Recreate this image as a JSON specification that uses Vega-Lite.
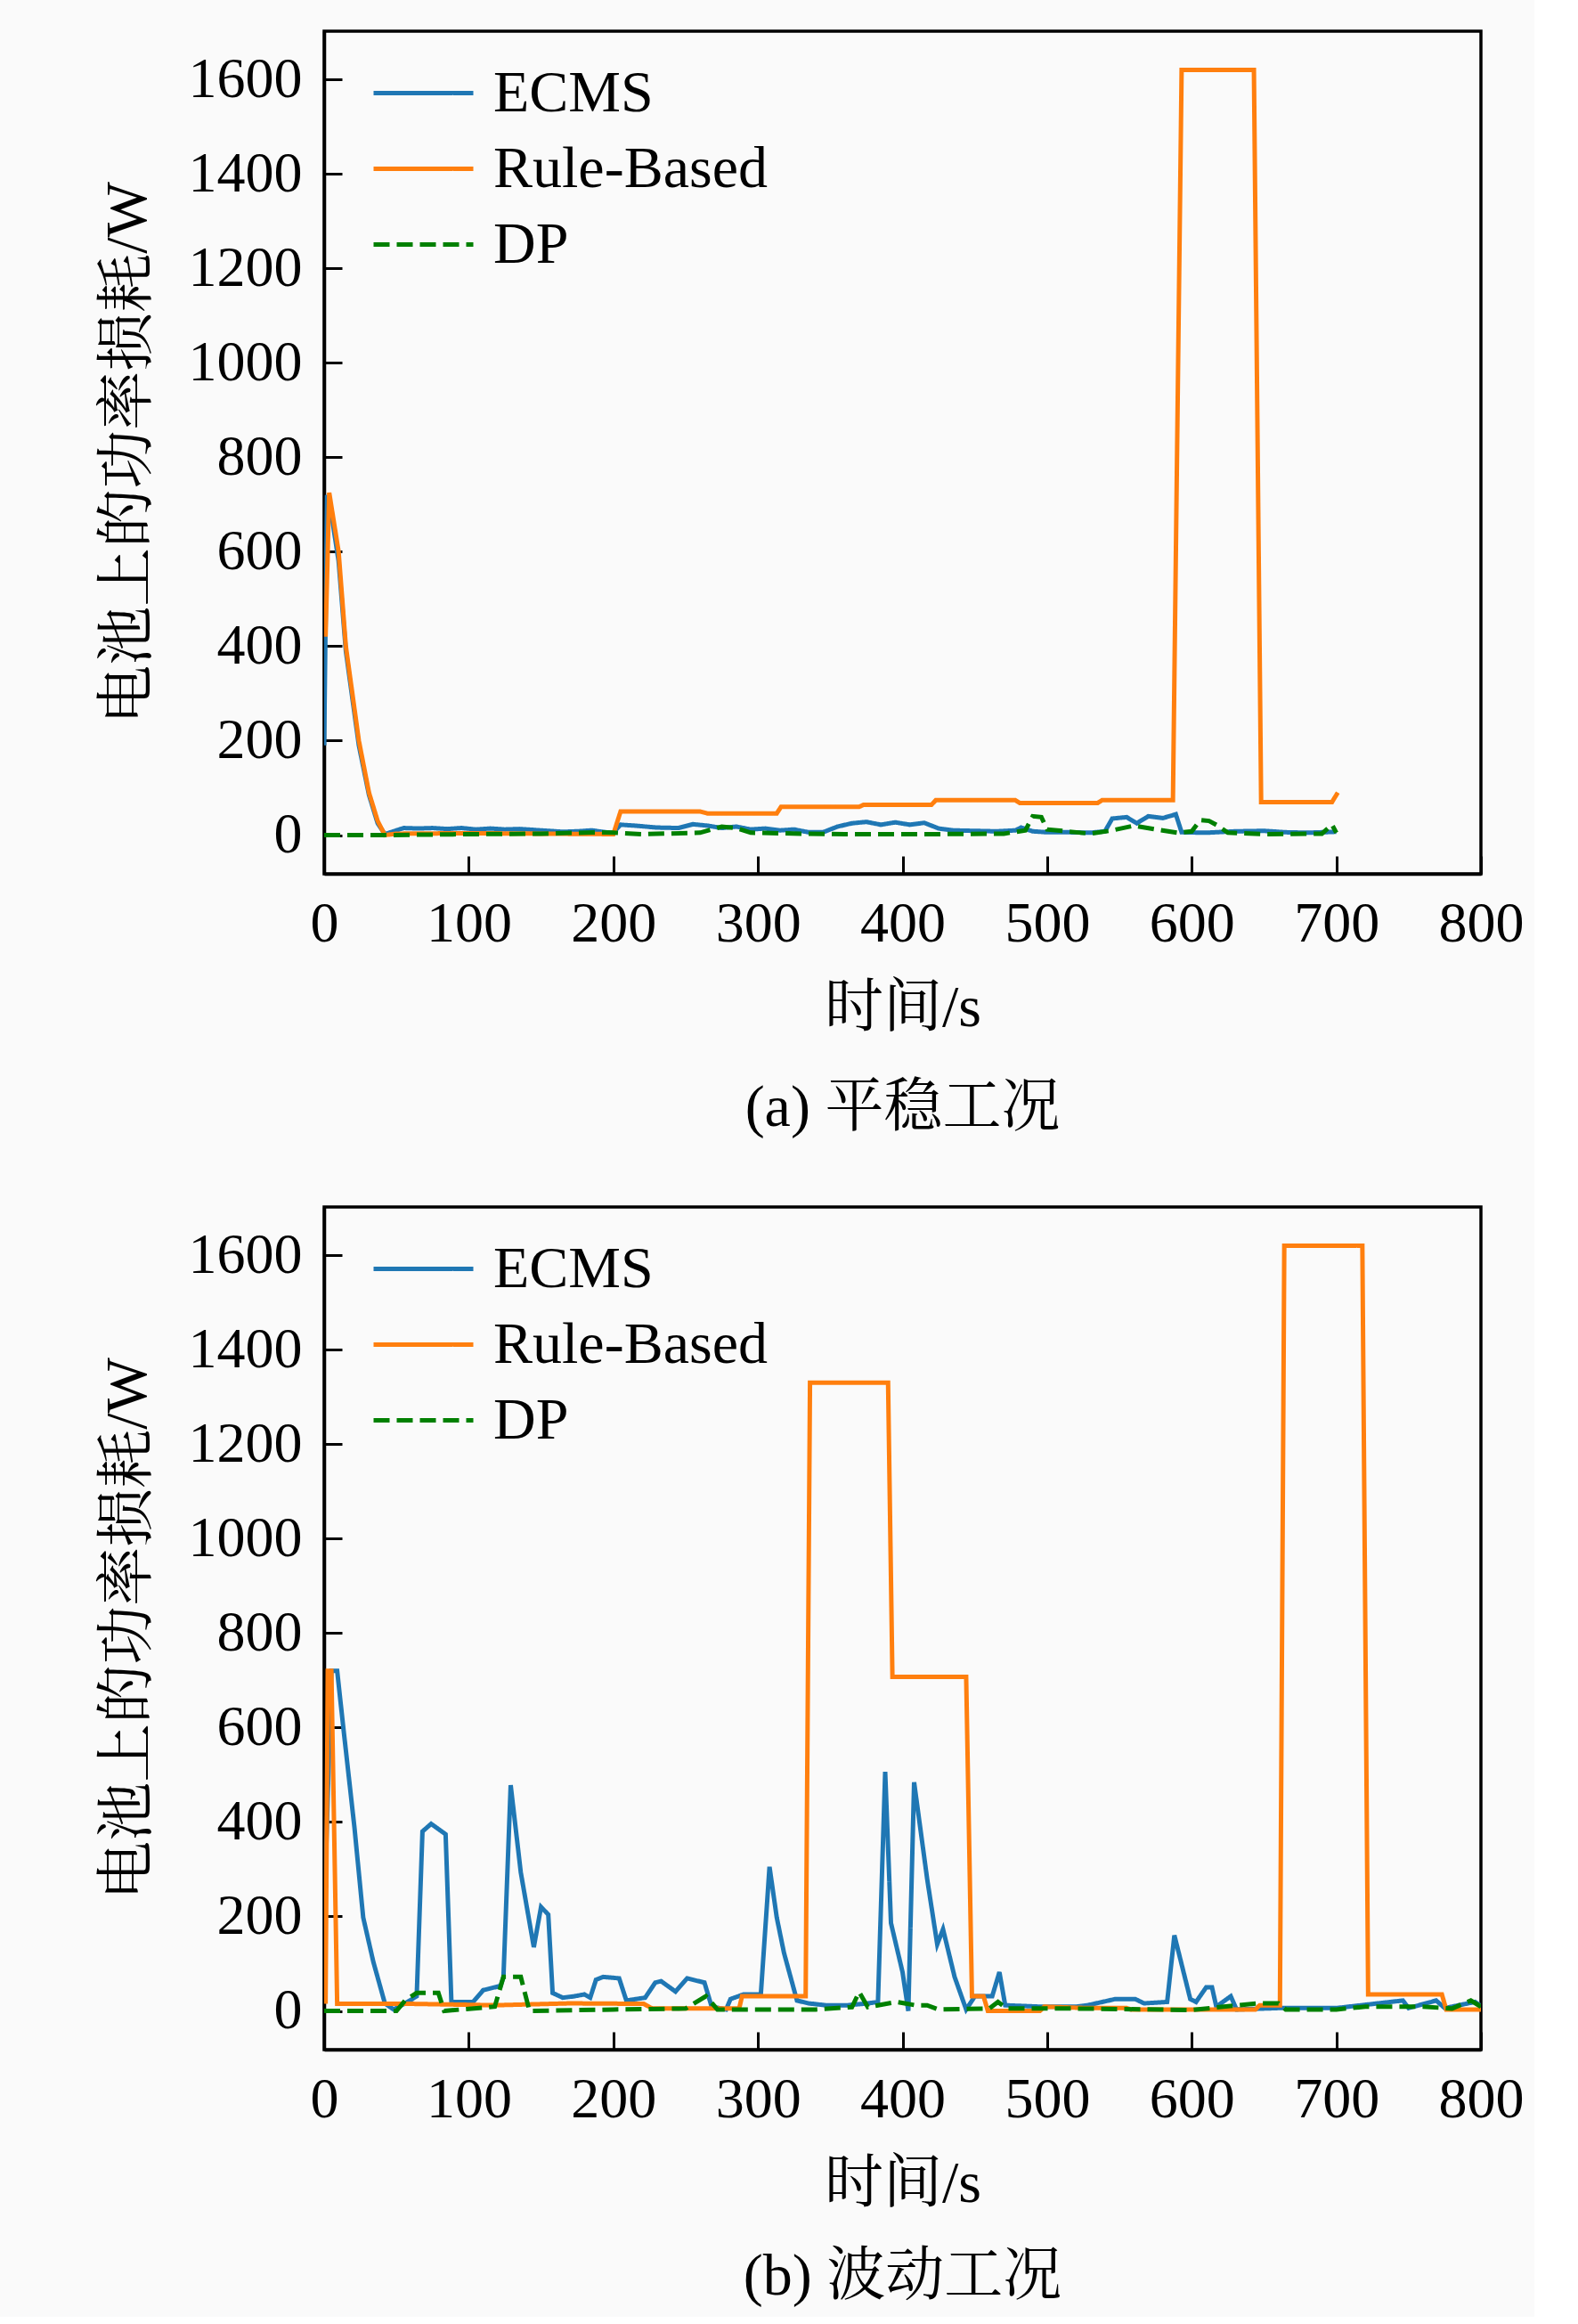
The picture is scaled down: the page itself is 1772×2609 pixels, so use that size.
{
  "$schema": "https://vega.github.io/schema/vega-lite/v6.json",
  "background": "#fafafa",
  "padding": {"left": 108, "top": 33, "right": 10, "bottom": 10},
  "datasets": {
    "a": [
      {"s": "ECMS", "t": 0, "v": 190}, {"s": "ECMS", "t": 2, "v": 720}, {"s": "ECMS", "t": 4, "v": 700},
      {"s": "ECMS", "t": 10, "v": 580}, {"s": "ECMS", "t": 15, "v": 390}, {"s": "ECMS", "t": 24, "v": 190},
      {"s": "ECMS", "t": 31, "v": 85}, {"s": "ECMS", "t": 37, "v": 25}, {"s": "ECMS", "t": 42, "v": 2},
      {"s": "ECMS", "t": 48, "v": 8}, {"s": "ECMS", "t": 55, "v": 15}, {"s": "ECMS", "t": 65, "v": 14},
      {"s": "ECMS", "t": 75, "v": 15}, {"s": "ECMS", "t": 85, "v": 13}, {"s": "ECMS", "t": 95, "v": 15},
      {"s": "ECMS", "t": 105, "v": 12}, {"s": "ECMS", "t": 115, "v": 14}, {"s": "ECMS", "t": 125, "v": 12},
      {"s": "ECMS", "t": 135, "v": 13}, {"s": "ECMS", "t": 145, "v": 11}, {"s": "ECMS", "t": 155, "v": 9},
      {"s": "ECMS", "t": 165, "v": 7}, {"s": "ECMS", "t": 175, "v": 8}, {"s": "ECMS", "t": 185, "v": 10},
      {"s": "ECMS", "t": 195, "v": 6}, {"s": "ECMS", "t": 200, "v": 5}, {"s": "ECMS", "t": 205, "v": 22},
      {"s": "ECMS", "t": 215, "v": 20}, {"s": "ECMS", "t": 230, "v": 16}, {"s": "ECMS", "t": 245, "v": 15},
      {"s": "ECMS", "t": 255, "v": 23}, {"s": "ECMS", "t": 265, "v": 20}, {"s": "ECMS", "t": 275, "v": 15},
      {"s": "ECMS", "t": 285, "v": 18}, {"s": "ECMS", "t": 295, "v": 12}, {"s": "ECMS", "t": 305, "v": 14},
      {"s": "ECMS", "t": 315, "v": 10}, {"s": "ECMS", "t": 325, "v": 12}, {"s": "ECMS", "t": 335, "v": 6},
      {"s": "ECMS", "t": 345, "v": 6}, {"s": "ECMS", "t": 355, "v": 18}, {"s": "ECMS", "t": 365, "v": 25},
      {"s": "ECMS", "t": 375, "v": 28}, {"s": "ECMS", "t": 385, "v": 22}, {"s": "ECMS", "t": 395, "v": 27},
      {"s": "ECMS", "t": 405, "v": 22}, {"s": "ECMS", "t": 415, "v": 26}, {"s": "ECMS", "t": 425, "v": 14},
      {"s": "ECMS", "t": 435, "v": 10}, {"s": "ECMS", "t": 450, "v": 9}, {"s": "ECMS", "t": 465, "v": 8},
      {"s": "ECMS", "t": 478, "v": 10}, {"s": "ECMS", "t": 482, "v": 16}, {"s": "ECMS", "t": 490, "v": 8},
      {"s": "ECMS", "t": 500, "v": 6}, {"s": "ECMS", "t": 515, "v": 6}, {"s": "ECMS", "t": 530, "v": 5},
      {"s": "ECMS", "t": 540, "v": 8}, {"s": "ECMS", "t": 545, "v": 35}, {"s": "ECMS", "t": 555, "v": 38},
      {"s": "ECMS", "t": 562, "v": 25}, {"s": "ECMS", "t": 570, "v": 40}, {"s": "ECMS", "t": 580, "v": 36},
      {"s": "ECMS", "t": 589, "v": 44}, {"s": "ECMS", "t": 593, "v": 6}, {"s": "ECMS", "t": 610, "v": 5},
      {"s": "ECMS", "t": 630, "v": 8}, {"s": "ECMS", "t": 650, "v": 9}, {"s": "ECMS", "t": 665, "v": 6},
      {"s": "ECMS", "t": 680, "v": 5}, {"s": "ECMS", "t": 700, "v": 7},
      {"s": "Rule-Based", "t": 1, "v": 420}, {"s": "Rule-Based", "t": 3.5, "v": 725}, {"s": "Rule-Based", "t": 10, "v": 600},
      {"s": "Rule-Based", "t": 15, "v": 400}, {"s": "Rule-Based", "t": 24, "v": 200}, {"s": "Rule-Based", "t": 31, "v": 90},
      {"s": "Rule-Based", "t": 37, "v": 30}, {"s": "Rule-Based", "t": 42, "v": 0}, {"s": "Rule-Based", "t": 50, "v": 3},
      {"s": "Rule-Based", "t": 100, "v": 4}, {"s": "Rule-Based", "t": 150, "v": 3}, {"s": "Rule-Based", "t": 200, "v": 2},
      {"s": "Rule-Based", "t": 205, "v": 50}, {"s": "Rule-Based", "t": 260, "v": 50}, {"s": "Rule-Based", "t": 265, "v": 46},
      {"s": "Rule-Based", "t": 313, "v": 46}, {"s": "Rule-Based", "t": 316, "v": 60}, {"s": "Rule-Based", "t": 370, "v": 60},
      {"s": "Rule-Based", "t": 373, "v": 64}, {"s": "Rule-Based", "t": 420, "v": 64}, {"s": "Rule-Based", "t": 423, "v": 74},
      {"s": "Rule-Based", "t": 478, "v": 74}, {"s": "Rule-Based", "t": 481, "v": 68}, {"s": "Rule-Based", "t": 535, "v": 68},
      {"s": "Rule-Based", "t": 538, "v": 74}, {"s": "Rule-Based", "t": 587, "v": 74}, {"s": "Rule-Based", "t": 593, "v": 1620},
      {"s": "Rule-Based", "t": 643, "v": 1620}, {"s": "Rule-Based", "t": 648, "v": 70}, {"s": "Rule-Based", "t": 697, "v": 70},
      {"s": "Rule-Based", "t": 701, "v": 90},
      {"s": "DP", "t": 0, "v": 0}, {"s": "DP", "t": 40, "v": 0}, {"s": "DP", "t": 100, "v": 2}, {"s": "DP", "t": 150, "v": 3},
      {"s": "DP", "t": 190, "v": 6}, {"s": "DP", "t": 200, "v": 5}, {"s": "DP", "t": 220, "v": 2}, {"s": "DP", "t": 260, "v": 5},
      {"s": "DP", "t": 275, "v": 18}, {"s": "DP", "t": 285, "v": 15}, {"s": "DP", "t": 295, "v": 5}, {"s": "DP", "t": 330, "v": 3},
      {"s": "DP", "t": 360, "v": 2}, {"s": "DP", "t": 420, "v": 2}, {"s": "DP", "t": 470, "v": 3}, {"s": "DP", "t": 485, "v": 10},
      {"s": "DP", "t": 490, "v": 40}, {"s": "DP", "t": 496, "v": 38}, {"s": "DP", "t": 500, "v": 12}, {"s": "DP", "t": 530, "v": 3},
      {"s": "DP", "t": 545, "v": 10}, {"s": "DP", "t": 560, "v": 20}, {"s": "DP", "t": 575, "v": 12}, {"s": "DP", "t": 590, "v": 5},
      {"s": "DP", "t": 600, "v": 8}, {"s": "DP", "t": 606, "v": 32}, {"s": "DP", "t": 612, "v": 30}, {"s": "DP", "t": 618, "v": 20},
      {"s": "DP", "t": 625, "v": 5}, {"s": "DP", "t": 650, "v": 2}, {"s": "DP", "t": 690, "v": 3}, {"s": "DP", "t": 697, "v": 22},
      {"s": "DP", "t": 700, "v": 5}
    ],
    "b": [
      {"s": "ECMS", "t": 0, "v": 200}, {"s": "ECMS", "t": 2, "v": 400}, {"s": "ECMS", "t": 5, "v": 720}, {"s": "ECMS", "t": 9, "v": 720},
      {"s": "ECMS", "t": 13, "v": 607}, {"s": "ECMS", "t": 21, "v": 387}, {"s": "ECMS", "t": 27, "v": 198}, {"s": "ECMS", "t": 34, "v": 104},
      {"s": "ECMS", "t": 42, "v": 16}, {"s": "ECMS", "t": 48, "v": 3}, {"s": "ECMS", "t": 56, "v": 16}, {"s": "ECMS", "t": 64, "v": 31},
      {"s": "ECMS", "t": 68, "v": 380}, {"s": "ECMS", "t": 74, "v": 396}, {"s": "ECMS", "t": 84, "v": 374}, {"s": "ECMS", "t": 88, "v": 19},
      {"s": "ECMS", "t": 103, "v": 19}, {"s": "ECMS", "t": 110, "v": 44}, {"s": "ECMS", "t": 122, "v": 53}, {"s": "ECMS", "t": 124, "v": 72},
      {"s": "ECMS", "t": 129, "v": 478}, {"s": "ECMS", "t": 136, "v": 293}, {"s": "ECMS", "t": 145, "v": 135}, {"s": "ECMS", "t": 150, "v": 220},
      {"s": "ECMS", "t": 155, "v": 204}, {"s": "ECMS", "t": 158, "v": 38}, {"s": "ECMS", "t": 165, "v": 28}, {"s": "ECMS", "t": 173, "v": 31},
      {"s": "ECMS", "t": 180, "v": 35}, {"s": "ECMS", "t": 184, "v": 28}, {"s": "ECMS", "t": 188, "v": 66}, {"s": "ECMS", "t": 193, "v": 72},
      {"s": "ECMS", "t": 204, "v": 69}, {"s": "ECMS", "t": 209, "v": 22}, {"s": "ECMS", "t": 222, "v": 28}, {"s": "ECMS", "t": 229, "v": 60},
      {"s": "ECMS", "t": 233, "v": 63}, {"s": "ECMS", "t": 243, "v": 41}, {"s": "ECMS", "t": 251, "v": 69}, {"s": "ECMS", "t": 263, "v": 60},
      {"s": "ECMS", "t": 268, "v": 9}, {"s": "ECMS", "t": 278, "v": 3}, {"s": "ECMS", "t": 281, "v": 25}, {"s": "ECMS", "t": 290, "v": 35},
      {"s": "ECMS", "t": 302, "v": 35}, {"s": "ECMS", "t": 308, "v": 305}, {"s": "ECMS", "t": 313, "v": 198}, {"s": "ECMS", "t": 318, "v": 123},
      {"s": "ECMS", "t": 327, "v": 22}, {"s": "ECMS", "t": 335, "v": 16}, {"s": "ECMS", "t": 347, "v": 12}, {"s": "ECMS", "t": 362, "v": 12},
      {"s": "ECMS", "t": 376, "v": 16}, {"s": "ECMS", "t": 383, "v": 19}, {"s": "ECMS", "t": 388, "v": 506}, {"s": "ECMS", "t": 392, "v": 186},
      {"s": "ECMS", "t": 400, "v": 82}, {"s": "ECMS", "t": 404, "v": 0}, {"s": "ECMS", "t": 408, "v": 484}, {"s": "ECMS", "t": 417, "v": 280},
      {"s": "ECMS", "t": 424, "v": 141}, {"s": "ECMS", "t": 428, "v": 173}, {"s": "ECMS", "t": 436, "v": 72}, {"s": "ECMS", "t": 444, "v": 3},
      {"s": "ECMS", "t": 450, "v": 31}, {"s": "ECMS", "t": 462, "v": 31}, {"s": "ECMS", "t": 467, "v": 82}, {"s": "ECMS", "t": 471, "v": 12},
      {"s": "ECMS", "t": 495, "v": 9}, {"s": "ECMS", "t": 520, "v": 9}, {"s": "ECMS", "t": 528, "v": 12}, {"s": "ECMS", "t": 547, "v": 25},
      {"s": "ECMS", "t": 561, "v": 25}, {"s": "ECMS", "t": 567, "v": 16}, {"s": "ECMS", "t": 583, "v": 19}, {"s": "ECMS", "t": 588, "v": 160},
      {"s": "ECMS", "t": 599, "v": 25}, {"s": "ECMS", "t": 603, "v": 19}, {"s": "ECMS", "t": 610, "v": 50}, {"s": "ECMS", "t": 614, "v": 50},
      {"s": "ECMS", "t": 617, "v": 9}, {"s": "ECMS", "t": 627, "v": 31}, {"s": "ECMS", "t": 631, "v": 3}, {"s": "ECMS", "t": 660, "v": 6},
      {"s": "ECMS", "t": 700, "v": 6}, {"s": "ECMS", "t": 746, "v": 22}, {"s": "ECMS", "t": 750, "v": 6}, {"s": "ECMS", "t": 769, "v": 22},
      {"s": "ECMS", "t": 775, "v": 6}, {"s": "ECMS", "t": 796, "v": 19}, {"s": "ECMS", "t": 800, "v": 10},
      {"s": "Rule-Based", "t": 1, "v": 15}, {"s": "Rule-Based", "t": 2.5, "v": 720}, {"s": "Rule-Based", "t": 5, "v": 720},
      {"s": "Rule-Based", "t": 9, "v": 15}, {"s": "Rule-Based", "t": 60, "v": 15}, {"s": "Rule-Based", "t": 118, "v": 12},
      {"s": "Rule-Based", "t": 170, "v": 16}, {"s": "Rule-Based", "t": 221, "v": 15}, {"s": "Rule-Based", "t": 227, "v": 5},
      {"s": "Rule-Based", "t": 287, "v": 5}, {"s": "Rule-Based", "t": 289, "v": 31}, {"s": "Rule-Based", "t": 333, "v": 31},
      {"s": "Rule-Based", "t": 336, "v": 1330}, {"s": "Rule-Based", "t": 390, "v": 1330}, {"s": "Rule-Based", "t": 393, "v": 707},
      {"s": "Rule-Based", "t": 444, "v": 707}, {"s": "Rule-Based", "t": 448, "v": 31}, {"s": "Rule-Based", "t": 456, "v": 31},
      {"s": "Rule-Based", "t": 459, "v": 0}, {"s": "Rule-Based", "t": 495, "v": 0}, {"s": "Rule-Based", "t": 498, "v": 9},
      {"s": "Rule-Based", "t": 528, "v": 6}, {"s": "Rule-Based", "t": 555, "v": 6}, {"s": "Rule-Based", "t": 558, "v": 3},
      {"s": "Rule-Based", "t": 644, "v": 3}, {"s": "Rule-Based", "t": 647, "v": 12}, {"s": "Rule-Based", "t": 661, "v": 12},
      {"s": "Rule-Based", "t": 664, "v": 1620}, {"s": "Rule-Based", "t": 718, "v": 1620}, {"s": "Rule-Based", "t": 722, "v": 35},
      {"s": "Rule-Based", "t": 773, "v": 35}, {"s": "Rule-Based", "t": 776, "v": 3}, {"s": "Rule-Based", "t": 800, "v": 3},
      {"s": "DP", "t": 0, "v": 0}, {"s": "DP", "t": 50, "v": 0}, {"s": "DP", "t": 56, "v": 22}, {"s": "DP", "t": 64, "v": 38},
      {"s": "DP", "t": 79, "v": 38}, {"s": "DP", "t": 83, "v": 0}, {"s": "DP", "t": 118, "v": 9}, {"s": "DP", "t": 124, "v": 72},
      {"s": "DP", "t": 136, "v": 72}, {"s": "DP", "t": 142, "v": 0}, {"s": "DP", "t": 200, "v": 3}, {"s": "DP", "t": 250, "v": 5},
      {"s": "DP", "t": 264, "v": 31}, {"s": "DP", "t": 272, "v": 3}, {"s": "DP", "t": 300, "v": 3}, {"s": "DP", "t": 340, "v": 3},
      {"s": "DP", "t": 365, "v": 8}, {"s": "DP", "t": 370, "v": 40}, {"s": "DP", "t": 376, "v": 8}, {"s": "DP", "t": 396, "v": 19},
      {"s": "DP", "t": 409, "v": 12}, {"s": "DP", "t": 417, "v": 12}, {"s": "DP", "t": 425, "v": 3}, {"s": "DP", "t": 460, "v": 5},
      {"s": "DP", "t": 466, "v": 19}, {"s": "DP", "t": 472, "v": 5}, {"s": "DP", "t": 520, "v": 5}, {"s": "DP", "t": 600, "v": 2},
      {"s": "DP", "t": 645, "v": 16}, {"s": "DP", "t": 660, "v": 16}, {"s": "DP", "t": 665, "v": 3}, {"s": "DP", "t": 700, "v": 3},
      {"s": "DP", "t": 720, "v": 9}, {"s": "DP", "t": 760, "v": 9}, {"s": "DP", "t": 780, "v": 5}, {"s": "DP", "t": 793, "v": 22},
      {"s": "DP", "t": 800, "v": 9}
    ]
  },
  "config": {
    "font": "Liberation Serif, Noto Serif CJK SC, Noto Sans CJK SC",
    "view": {"stroke": "#000000", "strokeWidth": 3.5},
    "axis": {
      "grid": false,
      "domainColor": "#000000",
      "domainWidth": 3.5,
      "tickColor": "#000000",
      "tickWidth": 3,
      "tickSize": -20,
      "labelFontSize": 64,
      "labelColor": "#000000",
      "labelFlush": false,
      "labelOverlap": false,
      "format": "d",
      "titleFontSize": 66,
      "titleFontWeight": "normal",
      "titleColor": "#000000"
    },
    "legend": {
      "labelFontSize": 66,
      "labelColor": "#000000",
      "labelLimit": 0,
      "symbolType": "stroke",
      "symbolSize": 12544,
      "symbolStrokeWidth": 5,
      "labelOffset": 20,
      "clipHeight": 85,
      "rowPadding": 0,
      "padding": 0
    },
    "title": {"fontSize": 66, "fontWeight": "normal", "color": "#000000"},
    "concat": {"spacing": 74}
  },
  "vconcat": [
    {
      "width": 1299,
      "height": 946,
      "data": {"name": "a"},
      "title": {"text": "(a) 平稳工况", "orient": "bottom", "offset": 48},
      "mark": {"type": "line", "strokeWidth": 5, "clip": true},
      "encoding": {
        "x": {"field": "t", "type": "quantitative", "title": "时间/s",
              "scale": {"domain": [0, 800], "nice": false, "zero": false},
              "axis": {"values": [0, 100, 200, 300, 400, 500, 600, 700, 800], "labelPadding": 44, "titlePadding": 30}},
        "y": {"field": "v", "type": "quantitative", "title": "电池上的功率损耗/W",
              "scale": {"domain": [-82, 1702], "nice": false, "zero": false},
              "axis": {"values": [0, 200, 400, 600, 800, 1000, 1200, 1400, 1600], "labelPadding": 45, "titlePadding": 34}},
        "color": {"field": "s", "type": "nominal", "sort": null,
                  "scale": {"domain": ["ECMS", "Rule-Based", "DP"], "range": ["#1f77b4", "#ff7f0e", "#008000"]},
                  "legend": {"title": null, "orient": "none", "legendX": 53, "legendY": 27}},
        "strokeDash": {"field": "s", "type": "nominal", "sort": null,
                       "scale": {"domain": ["ECMS", "Rule-Based", "DP"], "range": [[1, 0], [1, 0], [18, 8]]},
                       "legend": {"title": null, "orient": "none", "legendX": 53, "legendY": 27}}
      }
    },
    {
      "width": 1299,
      "height": 946,
      "data": {"name": "b"},
      "title": {"text": "(b) 波动工况", "orient": "bottom", "offset": 40},
      "mark": {"type": "line", "strokeWidth": 5, "clip": true},
      "encoding": {
        "x": {"field": "t", "type": "quantitative", "title": "时间/s",
              "scale": {"domain": [0, 800], "nice": false, "zero": false},
              "axis": {"values": [0, 100, 200, 300, 400, 500, 600, 700, 800], "labelPadding": 44, "titlePadding": 30}},
        "y": {"field": "v", "type": "quantitative", "title": "电池上的功率损耗/W",
              "scale": {"domain": [-82, 1702], "nice": false, "zero": false},
              "axis": {"values": [0, 200, 400, 600, 800, 1000, 1200, 1400, 1600], "labelPadding": 45, "titlePadding": 34}},
        "color": {"field": "s", "type": "nominal", "sort": null,
                  "scale": {"domain": ["ECMS", "Rule-Based", "DP"], "range": ["#1f77b4", "#ff7f0e", "#008000"]},
                  "legend": {"title": null, "orient": "none", "legendX": 53, "legendY": 27}},
        "strokeDash": {"field": "s", "type": "nominal", "sort": null,
                       "scale": {"domain": ["ECMS", "Rule-Based", "DP"], "range": [[1, 0], [1, 0], [18, 8]]},
                       "legend": {"title": null, "orient": "none", "legendX": 53, "legendY": 27}}
      }
    }
  ],
  "resolve": {"scale": {"color": "independent", "strokeDash": "independent"}}
}
